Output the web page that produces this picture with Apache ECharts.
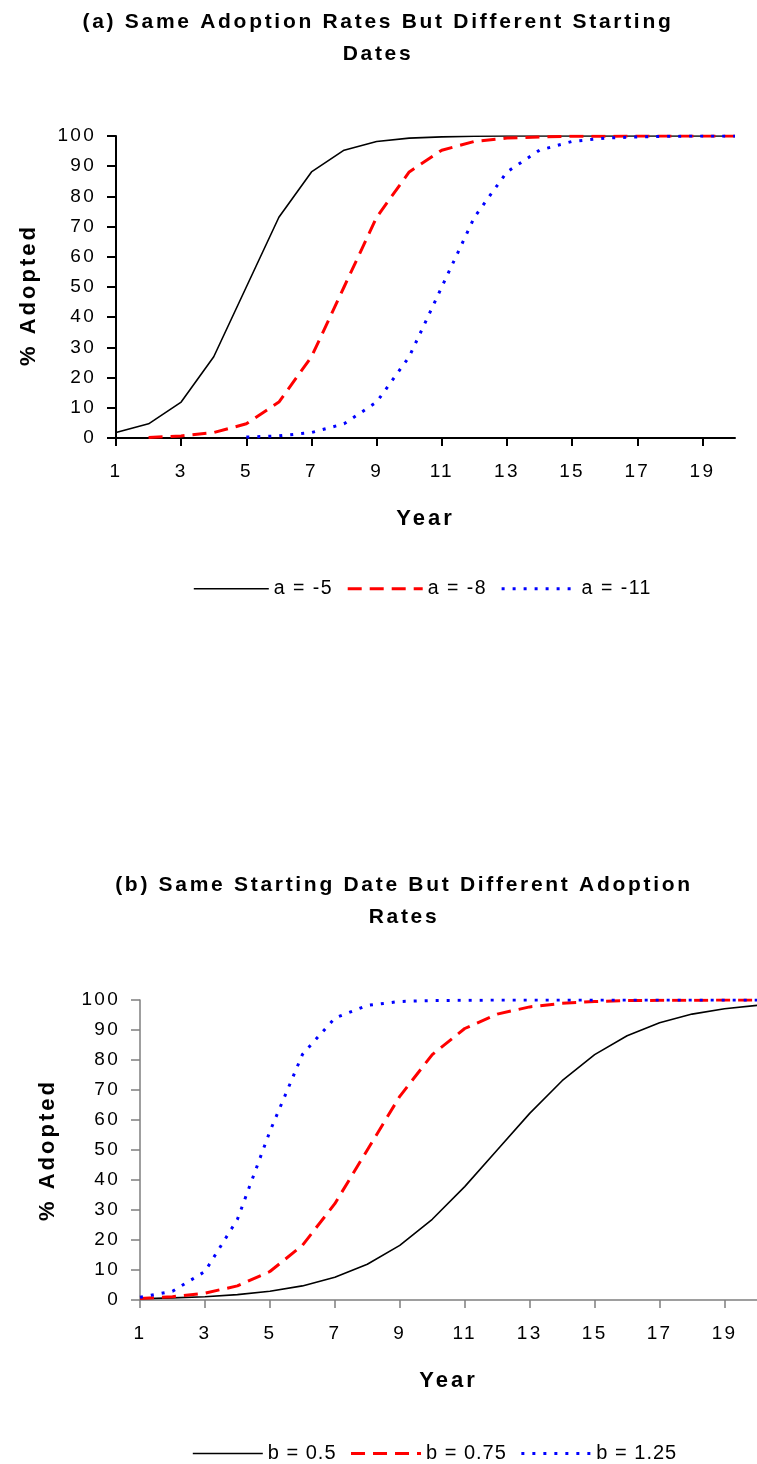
<!DOCTYPE html>
<html><head><meta charset="utf-8">
<script src="https://cdn.jsdelivr.net/npm/echarts@6/dist/echarts.min.js"></script>
<style>html,body{margin:0;padding:0;background:#fff}#c{width:757px;height:1464px}</style>
</head><body><div id="c"></div>
<script>
// ---------- data ----------
const years = ['1','2','3','4','5','6','7','8','9','10','11','12','13','14','15','16','17','18','19','20'];
const yTicks = [0,10,20,30,40,50,60,70,80,90,100];

const topNames = ['a = -5', 'a = -8', 'a = -11'];
const aMinus5  = [1.8, 4.7, 11.9, 26.9, 50.0, 73.1, 88.1, 95.3, 98.2, 99.3, 99.7, 99.9, 100, 100, 100, 100, 100, 100, 100, 100];
const aMinus8  = [null, 0.2, 0.7, 1.8, 4.7, 11.9, 26.9, 50.0, 73.1, 88.1, 95.3, 98.2, 99.3, 99.7, 99.9, 99.9, 100, 100, 100, 100];
const aMinus11 = [null, null, null, null, 0.3, 0.7, 1.8, 4.7, 11.9, 26.9, 50.0, 73.1, 88.1, 95.3, 98.2, 99.3, 99.7, 99.9, 100, 100];

const botNames = ['b = 0.5', 'b = 0.75', 'b = 1.25'];
const b050 = [0.4, 0.7, 1.1, 1.8, 2.9, 4.7, 7.6, 11.9, 18.2, 26.9, 37.8, 50.0, 62.2, 73.1, 81.8, 88.1, 92.4, 95.3, 97.1, 98.2];
const b075 = [0.5, 1.1, 2.3, 4.7, 9.5, 18.2, 32.1, 50.0, 67.9, 81.8, 90.5, 95.3, 97.7, 98.9, 99.5, 99.8, 99.9, 99.9, 100, 100];
const b125 = [0.9, 2.9, 9.5, 26.9, 56.2, 81.8, 94.0, 98.2, 99.5, 99.8, 99.9, 100, 100, 100, 100, 100, 100, 100, 100, 100];

const titleTop = '(a) Same Adoption Rates But Different Starting\nDates';
const titleBot = '(b) Same Starting Date But Different Adoption\nRates';
const xName = 'Year';
const yName = '% Adopted';

// ---------- letter spacing (the reference text is widely tracked) ----------
(function () {
  const P = CanvasRenderingContext2D.prototype;
  const oFill = P.fillText, oMeasure = P.measureText;
  function ls(font) {
    const m = /(\d+(?:\.\d+)?)px/.exec(font || '');
    if (!m) return 0;
    const s = parseFloat(m[1]);
    const bold = /bold|[6-9]00/.test(font);
    if (bold && s === 21) return 2.7;
    if (bold && s === 22) return 3;
    if (!bold && s === 19) return 2.3;
    if (!bold && s === 19.5) return 1.5;
    if (!bold && s === 20) return 1;
    return 0;
  }
  P.fillText = function () {
    try { this.letterSpacing = ls(this.font) + 'px'; } catch (e) {}
    const r = oFill.apply(this, arguments);
    try { this.letterSpacing = '0px'; } catch (e) {}
    return r;
  };
  P.measureText = function () {
    try { this.letterSpacing = ls(this.font) + 'px'; } catch (e) {}
    const r = oMeasure.apply(this, arguments);
    try { this.letterSpacing = '0px'; } catch (e) {}
    return r;
  };
})();

const FF = "'Liberation Sans', Arial, sans-serif";

function xAxisCfg(gridIndex, color, width) {
  return {
    type: 'category', gridIndex, data: years, boundaryGap: false, z: 3,
    axisLine: { show: true, lineStyle: { color, width } },
    axisTick: { show: true, interval: 1, length: 8, lineStyle: { color, width } },
    axisLabel: { interval: 1, margin: 23, fontSize: 19, color: '#000', fontFamily: FF },
    splitLine: { show: false },
    name: xName, nameLocation: 'middle', nameGap: 68,
    nameTextStyle: { fontSize: 22, fontWeight: 'bold', color: '#000', fontFamily: FF }
  };
}
function yAxisCfg(gridIndex, color, width, gap, namePad) {
  return {
    type: 'value', gridIndex, min: 0, max: 100, interval: 10, z: 3,
    axisLine: { show: true, lineStyle: { color, width } },
    axisTick: { show: true, length: 9, lineStyle: { color, width } },
    axisLabel: { margin: 20, fontSize: 19, color: '#000', fontFamily: FF,
      formatter: v => (yTicks.indexOf(v) >= 0 ? String(v) : '') },
    splitLine: { show: false },
    name: yName, nameLocation: 'middle', nameGap: gap, nameRotate: 90,
    nameTextStyle: { fontSize: 22, fontWeight: 'bold', color: '#000', fontFamily: FF, padding: namePad }
  };
}
function line(name, data, xi, style) {
  return {
    type: 'line', name, data, xAxisIndex: xi, yAxisIndex: xi,
    symbol: 'none', showSymbol: false, connectNulls: false,
    lineStyle: style, itemStyle: { color: style.color }
  };
}
const sBlack = { color: '#000000', width: 1.6, type: 'solid' };
const sRed = { color: '#ff0000', width: 3, type: [14, 8] };
const sBlue = { color: '#0000ff', width: 3, type: [3, 8] };

const legendCommon = { itemHeight: 14, itemGap: 13, padding: 0,
  itemStyle: { opacity: 0, borderWidth: 0 }, lineStyle: { width: 'inherit' } };

const chart = echarts.init(document.getElementById('c'), null, { renderer: 'canvas' });
chart.setOption({
  animation: false,
  backgroundColor: '#ffffff',
  title: [
    { text: titleTop, left: 378, top: 6, padding: 0, textAlign: 'center',
      textStyle: { fontSize: 21, fontWeight: 'bold', color: '#000', fontFamily: FF, lineHeight: 32 } },
    { text: titleBot, left: 404, top: 869, padding: 0, textAlign: 'center',
      textStyle: { fontSize: 21, fontWeight: 'bold', color: '#000', fontFamily: FF, lineHeight: 32 } }
  ],
  legend: [
    Object.assign({ data: topNames, left: 193, top: 578, itemWidth: 75,
      textStyle: { fontSize: 19.5, color: '#000', fontFamily: FF } }, legendCommon),
    Object.assign({ data: botNames, left: 192, top: 1443, itemWidth: 70,
      textStyle: { fontSize: 20, color: '#000', fontFamily: FF } }, legendCommon)
  ],
  grid: [
    { left: 116, top: 136, width: 619, height: 302, containLabel: false },
    { left: 140, top: 1000, width: 620, height: 300, containLabel: false }
  ],
  xAxis: [ xAxisCfg(0, '#000', 2), xAxisCfg(1, '#7f7f7f', 1.5) ],
  yAxis: [ yAxisCfg(0, '#000', 2, 75, [0, 16, 0, 0]), yAxisCfg(1, '#7f7f7f', 1.5, 80, 0) ],
  series: [
    line(topNames[0], aMinus5, 0, sBlack),
    line(topNames[1], aMinus8, 0, sRed),
    line(topNames[2], aMinus11, 0, sBlue),
    line(botNames[0], b050, 1, sBlack),
    line(botNames[1], b075, 1, sRed),
    line(botNames[2], b125, 1, sBlue)
  ]
});
</script>
</body></html>
